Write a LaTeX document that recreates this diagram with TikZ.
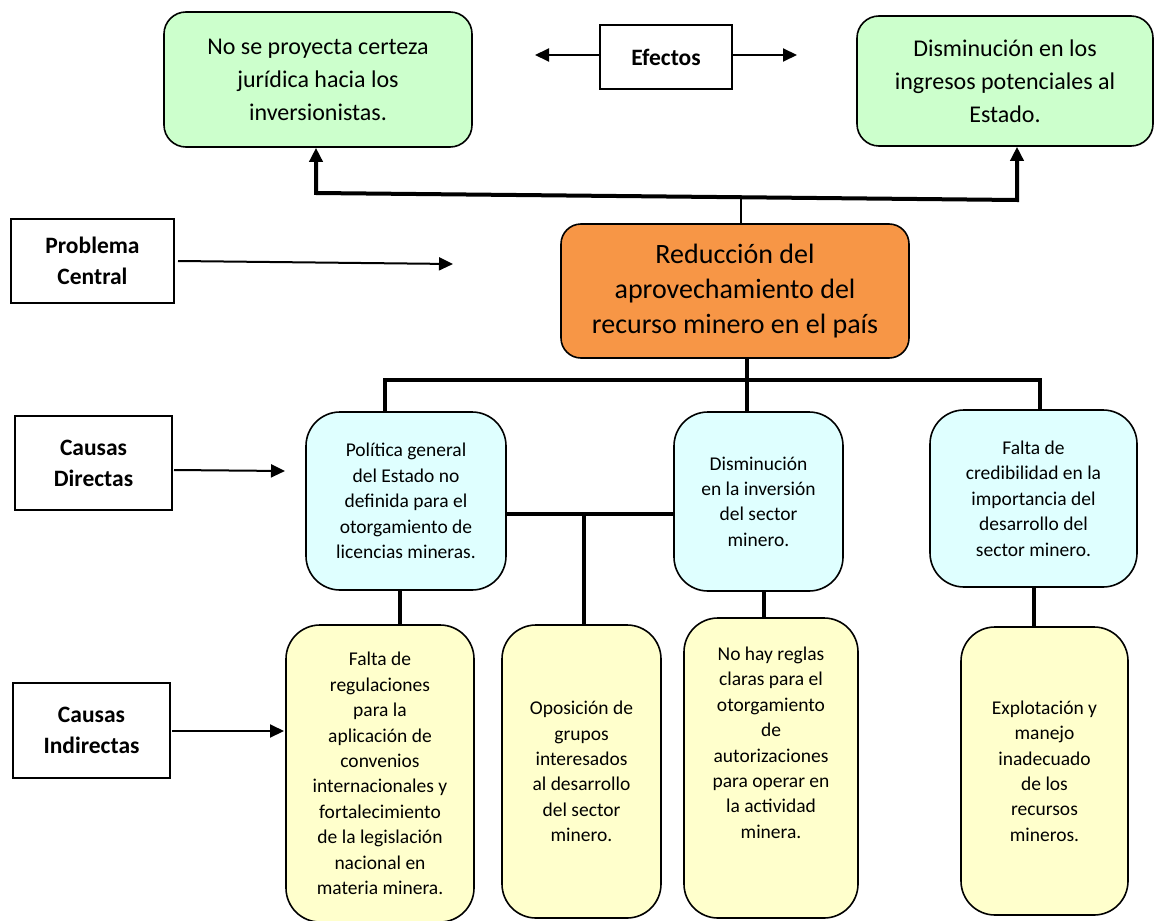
\documentclass[tikz,border=0pt]{standalone}
\usepackage{fontspec}
\setmainfont{Carlito}
\usetikzlibrary{arrows.meta}
\definecolor{grn}{HTML}{CCFFCC}
\definecolor{cyn}{HTML}{DFFFFF}
\definecolor{ylw}{HTML}{FFFFCC}
\definecolor{org}{HTML}{F79646}
\tikzset{
  box/.style={draw=black, line width=1.6pt, align=center, inner sep=0pt},
  effbox/.style={box, fill=grn, rounded corners=22pt, font=\fontsize{24}{33}\selectfont},
  cenbox/.style={box, fill=org, rounded corners=20pt, font=\fontsize{28}{35}\selectfont},
  dirbox/.style={box, fill=cyn, rounded corners=34pt, font=\fontsize{19.5}{25.4}\selectfont},
  indbox/.style={box, fill=ylw, rounded corners=34pt, font=\fontsize{19.5}{25.4}\selectfont},
  lblbox/.style={box, line width=1.4pt, fill=white, font=\bfseries\fontsize{23.5}{31}\selectfont},
  conn/.style={line width=3.2pt},
  heavy/.style={line width=4pt, -{Triangle[length=14pt,width=13pt]}},
  arr/.style={line width=2pt, -{Triangle[length=14pt,width=13pt]}}
}
\begin{document}
\begin{tikzpicture}[x=1pt,y=-1pt]
\useasboundingbox (0,0) rectangle (1155,920);
% effects
\node[effbox, minimum width=308pt, minimum height=135pt] (e1) at (318,79.5) {No se proyecta certeza\\jurídica hacia los\\inversionistas.};
\node[effbox, minimum width=296pt, minimum height=130pt] (e2) at (1005,81) {Disminución en los\\ingresos potenciales al\\Estado.};
\node[lblbox, minimum width=132pt, minimum height=64pt] (efec) at (666,57) {Efectos};
\coordinate (efl) at (535,55);
\coordinate (efr) at (797,55);
\draw[arr] (efec.west |- efl) -- (efl);
\draw[arr] (efec.east |- efr) -- (efr);
% central problem
\node[cenbox, minimum width=348pt, minimum height=134pt] (cen) at (735,291) {Reducción del\\aprovechamiento del\\recurso minero en el país};
\node[lblbox, minimum width=163pt, minimum height=84pt] (pc) at (92.5,261) {Problema\\Central};
\coordinate (pcs) at (178,261);
\coordinate (pce) at (453,264);
\draw[arr] (pcs) -- (pce);
% top connectors
\coordinate (cl) at (316,193);
\coordinate (cr) at (1017,200);
\coordinate (tj) at (741,197);
\draw[conn, line width=2.8pt] (tj) -- (tj |- cen.north);
\draw[heavy, {Triangle[length=14pt,width=13pt]}-{Triangle[length=14pt,width=13pt]}] (e1.south -| cl) -- (cl) -- (cr) -- (e2.south -| cr);
% direct causes
\node[dirbox, minimum width=200pt, minimum height=178pt] (d1) at (406,501) {Política general\\del Estado no\\definida para el\\otorgamiento de\\licencias mineras.};
\node[dirbox, minimum width=169pt, minimum height=179pt] (d2) at (758.5,501.5) {Disminución\\en la inversión\\del sector\\minero.};
\node[dirbox, minimum width=207pt, minimum height=177pt] (d3) at (1033.5,498.5) {Falta de\\credibilidad en la\\importancia del\\desarrollo del\\sector minero.};
\node[lblbox, minimum width=157pt, minimum height=94pt] (cd) at (93.5,463) {Causas\\Directas};
\coordinate (cds) at (174,470);
\coordinate (cde) at (285,471);
\draw[arr] (cds) -- (cde);
% connectors central -> direct causes
\coordinate (bj) at (747,380);
\coordinate (bl) at (385,380);
\coordinate (br) at (1040,380);
\draw[conn] (cen.south -| bj) -- (bj);
\draw[conn] (bl |- d1.north) -- (bl) -- (br) -- (br |- d3.north);
\draw[conn] (bj) -- (bj |- d2.north);
% indirect causes
\node[indbox, minimum width=188pt, minimum height=297pt] (i1) at (380,773.5) {Falta de\\regulaciones\\para la\\aplicación de\\convenios\\internacionales y\\fortalecimiento\\de la legislación\\nacional en\\materia minera.};
\node[indbox, minimum width=159pt, minimum height=293pt] (i2) at (581.5,771.5) {Oposición de\\grupos\\interesados\\al desarrollo\\del sector\\minero.};
\node[indbox, minimum width=174pt, minimum height=300pt] (i3) at (771,768) {No hay reglas\\claras para el\\otorgamiento\\de\\autorizaciones\\para operar en\\la actividad\\minera.\\~\\~};
\node[indbox, minimum width=167pt, minimum height=288pt] (i4) at (1044.5,771) {Explotación y\\manejo\\inadecuado\\de los\\recursos\\mineros.};
\node[lblbox, minimum width=157pt, minimum height=95pt] (ci) at (91.5,730.5) {Causas\\Indirectas};
\coordinate (cis) at (172,731);
\coordinate (cie) at (284,731);
\draw[arr] (cis) -- (cie);
% connectors direct -> indirect
\coordinate (x1) at (400,0);
\coordinate (x3) at (764,0);
\coordinate (x4) at (1034,0);
\coordinate (m1) at (584,514);
\draw[conn] (d1.south -| x1) -- (i1.north -| x1);
\draw[conn] (d2.south -| x3) -- (i3.north -| x3);
\draw[conn] (d3.south -| x4) -- (i4.north -| x4);
\draw[conn] (d1.east |- m1) -- (d2.west |- m1);
\draw[conn] (m1) -- (m1 |- i2.north);
\end{tikzpicture}
\end{document}
